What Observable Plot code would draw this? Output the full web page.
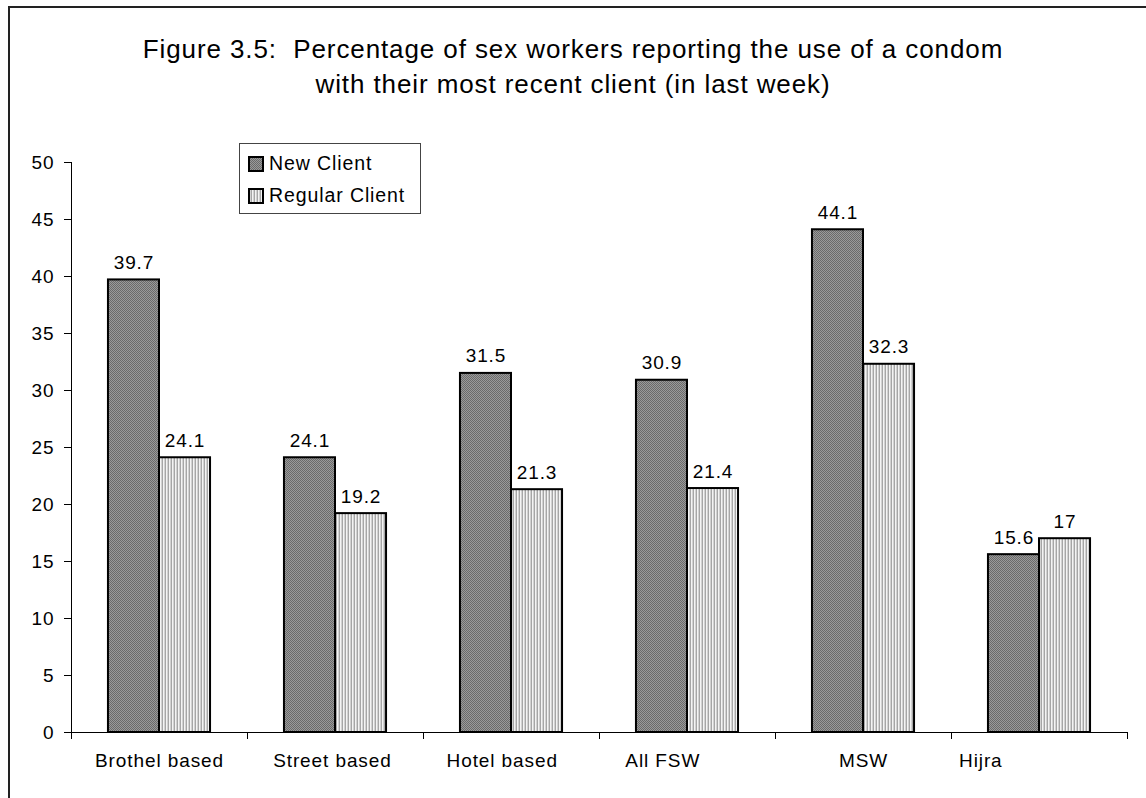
<!DOCTYPE html>
<html>
<head>
<meta charset="utf-8">
<script src="https://cdn.jsdelivr.net/npm/d3@7"></script>
<script src="https://cdn.jsdelivr.net/npm/@observablehq/plot@0.6"></script>
<style>
  html, body { margin: 0; padding: 0; background: #fff; }
  body { width: 1146px; height: 798px; position: relative; overflow: hidden; font-family: "Liberation Sans", Arial, sans-serif; }
  #frame { position: absolute; left: 8px; top: 6px; width: 1200px; height: 900px; border-left: 2px solid #222; border-top: 2px solid #222; pointer-events: none; }
  #title { height: 130px; box-sizing: border-box; padding-top: 32px; text-align: center; font-size: 26px; line-height: 35px; letter-spacing: 0.9px; color: #000; white-space: pre; }
  #legend { position: absolute; left: 239px; top: 143px; width: 180px; height: 69px; border: 1px solid #444; background: #fff; font-size: 19.5px; letter-spacing: 0.9px; }
  .item { position: absolute; left: 8px; height: 20px; line-height: 20px; }
  .item svg { position: absolute; left: 0; top: 2px; }
  .item span { position: absolute; left: 21px; top: -1px; white-space: nowrap; }
  #chart svg { display: block; }
</style>
</head>
<body>
<svg width="0" height="0" style="position:absolute">
  <defs>
    <pattern id="patNew" width="2" height="2" patternUnits="userSpaceOnUse">
      <rect width="2" height="2" fill="#9a9a9a"/>
      <rect width="1" height="1" fill="#6a6a6a"/>
      <rect x="1" y="1" width="1" height="1" fill="#6a6a6a"/>
    </pattern>
    <pattern id="patReg" width="3" height="3" patternUnits="userSpaceOnUse">
      <rect width="3" height="3" fill="#f4f4f4"/>
      <rect width="1" height="3" fill="#a6a6a6"/>
      <rect x="2" width="1" height="3" fill="#d2d2d2"/>
    </pattern>
  </defs>
</svg>
<div id="frame"></div>
<div id="title">Figure 3.5:  Percentage of sex workers reporting the use of a condom
with their most recent client (in last week)</div>
<div id="chart"></div>
<div id="legend">
  <div class="item" style="top:10px"><svg width="16" height="16"><rect x="1" y="1" width="14" height="14" fill="url(#patNew)" stroke="#000" stroke-width="2"/></svg><span>New Client</span></div>
  <div class="item" style="top:42px"><svg width="16" height="16"><rect x="1" y="1" width="14" height="14" fill="url(#patReg)" stroke="#000" stroke-width="2"/></svg><span>Regular Client</span></div>
</div>
<script>
// ---- data ----
const categories = ["Brothel based", "Street based", "Hotel based", "All FSW", "MSW", "Hijra"];
// tick labels as in the source sheet (some carry trailing spaces)
const tickLabels = [
  "Brothel based",
  "Street based\u00a0",
  "Hotel based\u00a0\u00a0\u00a0",
  "All FSW\u00a0\u00a0\u00a0\u00a0\u00a0\u00a0\u00a0\u00a0",
  "MSW",
  "Hijra\u00a0\u00a0\u00a0\u00a0\u00a0\u00a0\u00a0\u00a0\u00a0\u00a0\u00a0\u00a0\u00a0\u00a0\u00a0\u00a0\u00a0\u00a0\u00a0"
];
const seriesNames = ["New Client", "Regular Client"];
const newClient = [39.7, 24.1, 31.5, 30.9, 44.1, 15.6];
const regularClient = [24.1, 19.2, 21.3, 21.4, 32.3, 17];
const yTicks = [0, 5, 10, 15, 20, 25, 30, 35, 40, 45, 50];

// ---- derived table ----
const rows = categories.map((c, i) => ({category: c, index: i, label: tickLabels[i], newV: newClient[i], regV: regularClient[i]}));
const gap = 0.21; // outer gap in category units

const chart = Plot.plot({
  width: 1146,
  height: 668,
  marginLeft: 71,
  marginRight: 19,
  marginTop: 32,
  marginBottom: 66,
  style: {fontFamily: "'Liberation Sans', Arial, sans-serif", fontSize: "19px", letterSpacing: "0.9px", color: "#000", background: "transparent", overflow: "visible"},
  x: {domain: [0, categories.length], axis: null},
  y: {domain: [0, 50], axis: null},
  marks: [
    Plot.rectY(rows, {x1: d => d.index + gap, x2: d => d.index + 0.5, y1: 0, y2: "newV", fill: "url(#patNew)", stroke: "#000", strokeWidth: 2}),
    Plot.rectY(rows, {x1: d => d.index + 0.5, x2: d => d.index + 1 - gap, y1: 0, y2: "regV", fill: "url(#patReg)", stroke: "#000", strokeWidth: 2}),
    Plot.text(rows, {x: d => d.index + (gap + 0.5) / 2, y: "newV", text: d => String(d.newV), dy: -17, fill: "#000"}),
    Plot.text(rows, {x: d => d.index + (1.5 - gap) / 2, y: "regV", text: d => String(d.regV), dy: -17, fill: "#000"}),
    Plot.axisY({ticks: yTicks, tickSize: 7, tickPadding: 10, tickFormat: d => String(d), stroke: "#000", strokeOpacity: 1}),
    Plot.axisX({ticks: d3.range(0, categories.length + 1), tickSize: 7, tickFormat: () => "", stroke: "#000", strokeOpacity: 1}),
    Plot.ruleX([0], {y1: 0, y2: 50, stroke: "#000"}),
    Plot.ruleY([0], {x1: 0, x2: categories.length, stroke: "#000"}),
    Plot.text(rows, {x: d => d.index + 0.5, y: 0, dy: 28, text: "label", fill: "#000"})
  ]
});
document.getElementById("chart").appendChild(chart);
</script>
</body>
</html>
